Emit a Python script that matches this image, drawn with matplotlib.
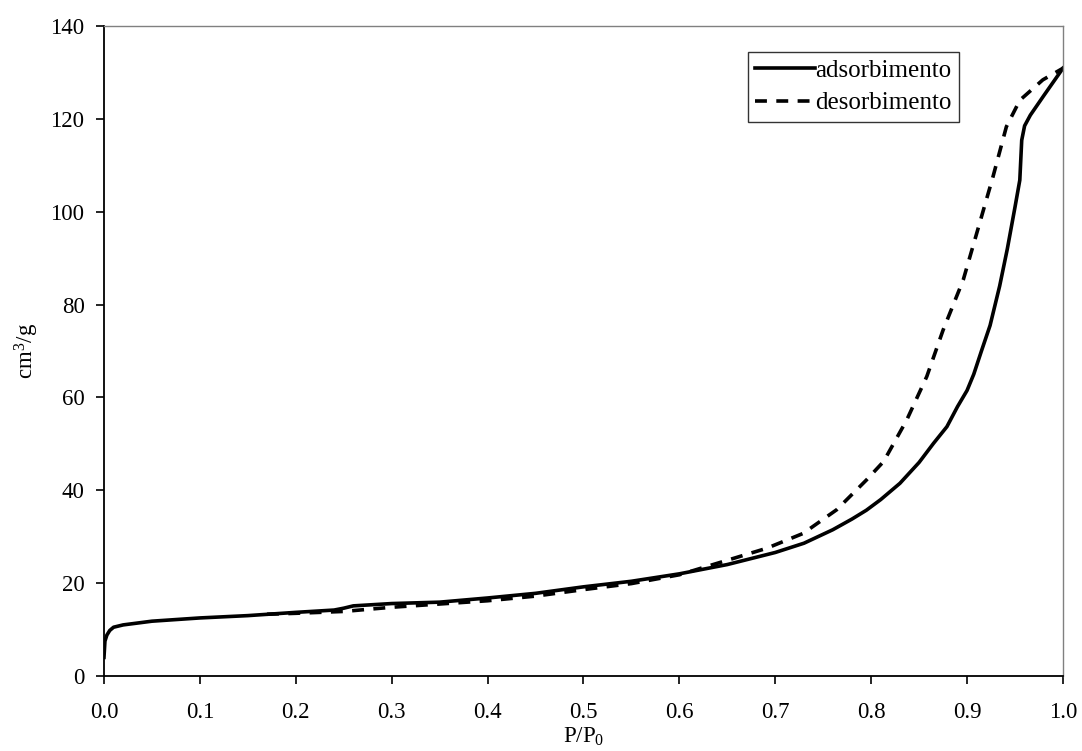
import matplotlib
matplotlib.use("Agg")
import matplotlib.pyplot as plt

plt.rcParams['font.family'] = ['Liberation Serif', 'DejaVu Serif']
plt.rcParams['mathtext.fontset'] = 'custom'
plt.rcParams['mathtext.rm'] = 'Liberation Serif'
plt.rcParams['mathtext.it'] = 'Liberation Serif:italic'

# Adsorption branch (P/P0, cm3/g)
ads_p = [0.0, 0.001, 0.003, 0.006, 0.01, 0.02, 0.05, 0.1, 0.15, 0.2, 0.24, 0.25,
         0.26, 0.3, 0.35, 0.4, 0.45, 0.5, 0.55, 0.6, 0.65, 0.7, 0.73, 0.76,
         0.78, 0.795, 0.81, 0.83, 0.85, 0.865, 0.879, 0.89, 0.9, 0.907, 0.915,
         0.924, 0.934, 0.942, 0.95, 0.955, 0.957, 0.96, 0.966, 0.98, 1.0]
ads_v = [4.0, 7.5, 8.8, 9.8, 10.5, 11.0, 11.8, 12.5, 13.0, 13.7, 14.2, 14.6,
         15.1, 15.6, 15.9, 16.8, 17.8, 19.2, 20.4, 22.0, 24.0, 26.6, 28.6, 31.5,
         33.8, 35.7, 38.0, 41.5, 46.0, 50.1, 53.7, 58.0, 61.5, 65.0, 70.0,
         75.5, 84.0, 92.0, 101.0, 106.8, 115.4, 118.5, 120.8, 125.0, 130.9]

# Desorption branch
des_p = [0.17, 0.2, 0.25, 0.3, 0.35, 0.4, 0.45, 0.5, 0.55, 0.6, 0.656, 0.691,
         0.729, 0.764, 0.795, 0.813, 0.837, 0.858, 0.875, 0.896, 0.91, 0.927,
         0.941, 0.955, 0.979, 1.0]
des_v = [13.3, 13.5, 13.9, 14.8, 15.5, 16.2, 17.2, 18.6, 19.9, 21.8, 25.3, 27.5,
         30.7, 35.8, 42.2, 46.2, 55.1, 64.5, 74.5, 85.3, 95.3, 107.5,
         118.3, 124.0, 128.4, 130.9]

x_ticks = [0.0, 0.1, 0.2, 0.3, 0.4, 0.5, 0.6, 0.7, 0.8, 0.9, 1.0]
y_ticks = [0, 20, 40, 60, 80, 100, 120, 140]

fig = plt.figure(figsize=(10.82, 7.51), dpi=100)
ax = fig.add_axes([0.0961, 0.0999, 0.8863, 0.8655])

ax.plot(ads_p, ads_v, color='black', lw=2.6, solid_joinstyle='round',
        label='adsorbimento')
ax.plot(des_p, des_v, color='black', lw=2.6, linestyle=(0, (3.3, 2.6)),
        label='desorbimento')

ax.set_xlim(0, 1.0)
ax.set_ylim(0, 140)
ax.set_xticks(x_ticks)
ax.set_xticklabels([f"{t:.1f}" for t in x_ticks])
ax.set_yticks(y_ticks)

for side in ('top', 'right'):
    ax.spines[side].set_color('#808080')
    ax.spines[side].set_linewidth(1.0)
for side in ('left', 'bottom'):
    ax.spines[side].set_color('black')
    ax.spines[side].set_linewidth(1.3)

ax.tick_params(axis='both', direction='out', length=6, width=1.2,
               labelsize=16.5, colors='black')
ax.tick_params(axis='x', pad=13)
ax.tick_params(axis='y', pad=8)

ax.set_xlabel('P/P$_\\mathregular{0}$', fontsize=16.5, labelpad=2)
ax.set_ylabel('cm$^\\mathregular{3}$/g', fontsize=16.5)
ax.yaxis.set_label_coords(-0.066, 0.5)

leg = ax.legend(loc='upper left', bbox_to_anchor=(0.6715, 0.96), fontsize=18,
                frameon=True, fancybox=False, edgecolor='black',
                handlelength=2.4, handletextpad=0.0, borderpad=0.3,
                labelspacing=0.4, borderaxespad=0)
leg.get_frame().set_linewidth(1.0)

fig.savefig('out.png', dpi=100, facecolor='white')
